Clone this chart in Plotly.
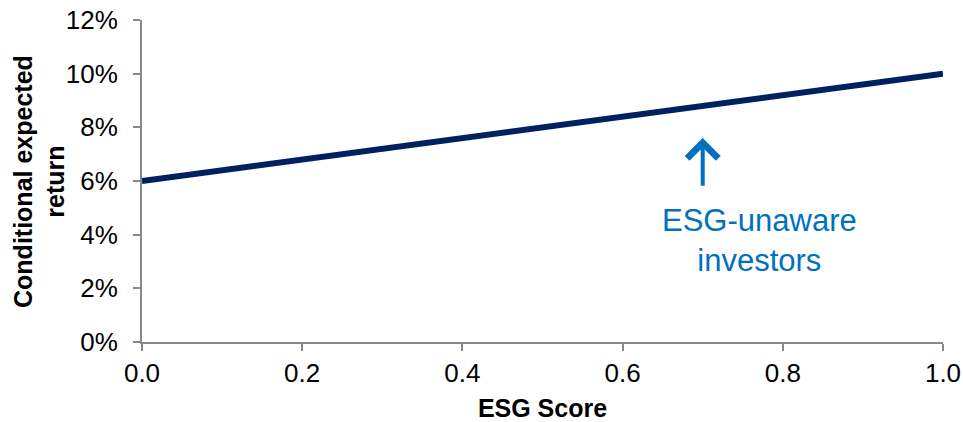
import plotly.graph_objects as go

esg_score = [0.0, 1.0]
expected_return = [0.06, 0.10]

x_ticks = [0.0, 0.2, 0.4, 0.6, 0.8, 1.0]
y_ticks = [0.0, 0.02, 0.04, 0.06, 0.08, 0.10, 0.12]

arrow_x = 0.7
arrow_head_y = 0.076
arrow_tail_y = 0.0577
label_x = 0.771
label_y = 0.038
label_text = "ESG-unaware<br>investors"
y_title = "<b>Conditional expected<br>return</b>"
x_title = "<b>ESG Score</b>"

FONT = "Liberation Sans, Arial, sans-serif"
AXIS_GRAY = "#888888"

fig = go.Figure()
fig.add_trace(go.Scatter(
    x=esg_score, y=expected_return, mode="lines",
    line=dict(color="#002060", width=6),
    showlegend=False, hoverinfo="skip", cliponaxis=False,
))

fig.add_annotation(
    x=arrow_x, y=arrow_head_y, ax=arrow_x, ay=arrow_tail_y,
    xref="x", yref="y", axref="x", ayref="y",
    text="", showarrow=True, arrowhead=4, arrowsize=1.5,
    arrowwidth=4, arrowcolor="#0070C0",
)
fig.add_annotation(
    x=label_x, y=label_y, xref="x", yref="y",
    text=label_text, showarrow=False,
    font=dict(family=FONT, size=31, color="#0070C0"),
    xanchor="center", yanchor="middle", align="center",
)
# y-axis title placed as a rotated annotation for precise positioning
fig.add_annotation(
    x=-0.1286, y=0.5, xref="paper", yref="paper",
    text=y_title, showarrow=False, textangle=-90,
    font=dict(family=FONT, size=25, color="black"),
    xanchor="center", yanchor="middle", align="center",
)

fig.update_layout(
    width=963, height=422,
    margin=dict(l=142, r=20, t=20, b=80, autoexpand=False),
    plot_bgcolor="white", paper_bgcolor="white",
    font=dict(family=FONT, size=26, color="black"),
)
fig.update_xaxes(
    range=[0, 1], tickvals=x_ticks, ticktext=[f"{v:.1f}" for v in x_ticks],
    showgrid=False, zeroline=False, showline=True, linecolor=AXIS_GRAY, linewidth=2,
    ticks="outside", ticklen=7, tickwidth=2, tickcolor=AXIS_GRAY,
    tickfont=dict(size=26), automargin=False,
    title=dict(text=x_title, font=dict(size=25), standoff=14),
)
fig.update_yaxes(
    range=[0, 0.12], tickvals=y_ticks, ticktext=[f"{round(v*100)}%" for v in y_ticks],
    showgrid=False, zeroline=False, showline=True, linecolor=AXIS_GRAY, linewidth=2,
    ticks="outside", ticklen=7, tickwidth=2, tickcolor=AXIS_GRAY,
    tickfont=dict(size=26), ticklabelstandoff=10, automargin=False,
)

fig.write_html(
    "out.html",
    config={"displayModeBar": False},
    post_script="document.body.style.margin='0';document.body.style.overflow='hidden';",
)
